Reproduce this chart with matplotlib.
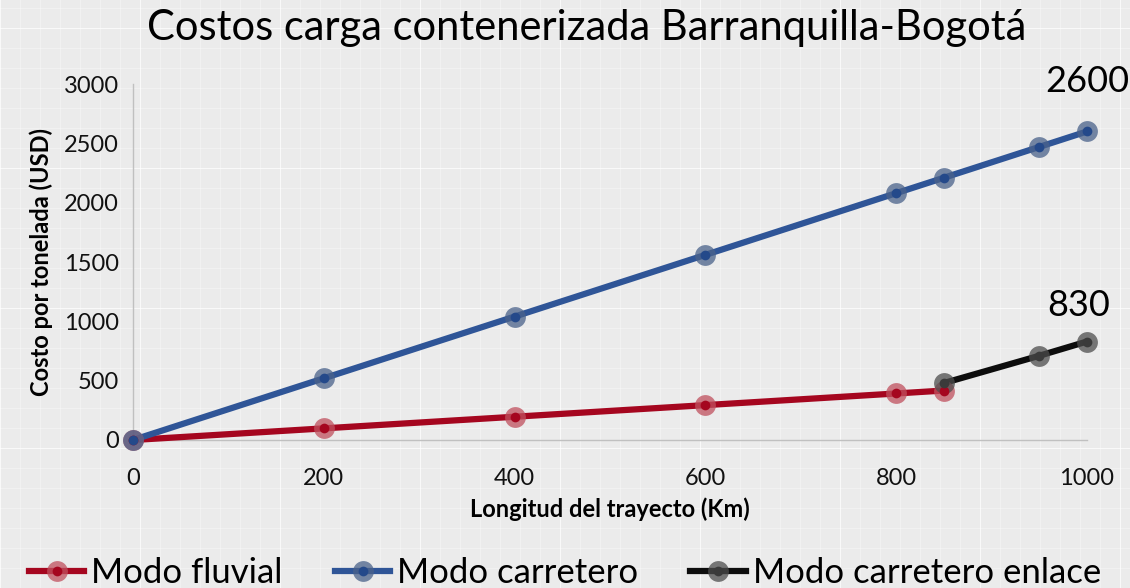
import matplotlib.pyplot as plt
from matplotlib.lines import Line2D
from matplotlib.legend_handler import HandlerTuple

# data
km_fluvial = [0, 200, 400, 600, 800, 850]
cost_fluvial = [0, 98, 196, 294, 392, 417]
km_carretero = [0, 200, 400, 600, 800, 850, 950, 1000]
cost_carretero = [0, 520, 1040, 1560, 2080, 2210, 2470, 2600]
km_enlace = [850, 950, 1000]
cost_enlace = [480, 710, 830]

series = [
    ("Modo fluvial", km_fluvial, cost_fluvial, "#a5061f", "#a5061f", "#c0505e"),
    ("Modo carretero", km_carretero, cost_carretero, "#2f5597", "#24498a", "#4a628a"),
    ("Modo carretero enlace", km_enlace, cost_enlace, "#0d0d0d", "#3a3a3a", "#4d4d4d"),
]

plt.rcParams['font.family'] = ['Lato', 'DejaVu Sans']

fig = plt.figure(figsize=(11.3, 5.88), dpi=100, facecolor="#ebebeb")

# faint background texture
W, H = 1130, 588
for x in range(0, W, 20):
    fig.add_artist(Line2D([x / W, x / W], [0, 1], color="white", lw=0.8,
                          alpha=0.35 if x % 140 else 0.7, zorder=-5))
for y in range(0, H, 20):
    fig.add_artist(Line2D([0, 1], [y / H, y / H], color="white", lw=0.8,
                          alpha=0.35 if y % 140 else 0.7, zorder=-5))

ax = fig.add_axes([133 / W, 1 - 440 / H, (1087 - 133) / W, (440 - 84) / H])
ax.set_facecolor("none")

handles = []
for name, xs, ys, lc, mc, oc in series:
    ax.plot(xs, ys, color=lc, lw=4.5, solid_capstyle="round", clip_on=False, zorder=3)
    ax.plot(xs, ys, ls="none", marker="o", ms=15, mfc=oc, mec="none", alpha=0.75,
            clip_on=False, zorder=4)
    ax.plot(xs, ys, ls="none", marker="o", ms=7, mfc=mc, mec="none",
            clip_on=False, zorder=5)
    h = (Line2D([], [], color=lc, lw=4.5),
         Line2D([], [], ls="none", marker="o", ms=15, mfc=oc, mec="none", alpha=0.75),
         Line2D([], [], ls="none", marker="o", ms=7, mfc=mc, mec="none"))
    handles.append(h)

ax.set_xlim(0, 1000)
ax.set_ylim(0, 3000)
ax.set_xticks(range(0, 1001, 200))
ax.set_yticks(range(0, 3001, 500))
for s in ["top", "right"]:
    ax.spines[s].set_visible(False)
for s in ["left", "bottom"]:
    ax.spines[s].set_color("#c0c0c0")
    ax.spines[s].set_linewidth(1)
ax.tick_params(length=0, labelsize=17, colors="#111111")
ax.tick_params(axis="x", pad=20)
ax.tick_params(axis="y", pad=10)

ax.set_xlabel("Longitud del trayecto (Km)", fontsize=17, fontweight="bold", labelpad=6)
ax.set_ylabel("Costo por tonelada (USD)", fontsize=17, fontweight="bold", labelpad=8)

ax.annotate("2600", (km_carretero[-1], cost_carretero[-1]), xytext=(0, 24),
            textcoords="offset points", ha="center", va="bottom", fontsize=26,
            annotation_clip=False)
ax.annotate("830", (km_enlace[-1], cost_enlace[-1]), xytext=(-6, 14),
            textcoords="offset points", ha="center", va="bottom", fontsize=26,
            annotation_clip=False)

fig.suptitle("Costos carga contenerizada Barranquilla-Bogotá", fontsize=30,
             y=1 - 28 / H, va="center", x=587 / W)

fig.legend(handles, [s[0] for s in series], handler_map={tuple: HandlerTuple(ndivide=1)},
           loc="center", bbox_to_anchor=(0.5, 1 - 573 / H), ncol=3, frameon=False,
           prop={"size": 25}, handlelength=1.6, columnspacing=1.5,
           handletextpad=0.2)

fig.savefig("out.png", dpi=100, facecolor=fig.get_facecolor())
